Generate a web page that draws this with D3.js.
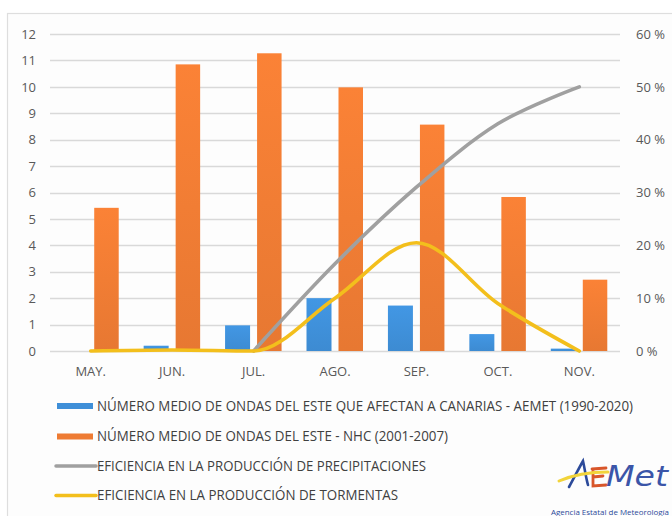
<!DOCTYPE html>
<html>
<head>
<meta charset="utf-8">
<script src="https://cdn.jsdelivr.net/npm/d3@7"></script>
<style>
html,body{margin:0;padding:0;background:#fff;}
svg{display:block;}
</style>
</head>
<body>
<svg id="chart" width="672" height="516"></svg>
<script>
// ---- data ----
const months = ["MAY.", "JUN.", "JUL.", "AGO.", "SEP.", "OCT.", "NOV."];
const aemetWaves = [0, 0.2, 0.97, 2.0, 1.72, 0.64, 0.09];
const nhcWaves = [5.42, 10.85, 11.27, 9.98, 8.57, 5.83, 2.7];
const precipEff = [null, null, 0, 0.165, 0.31, 0.43, 0.50];
const stormEff = [0, 0.002, 0, 0.10, 0.205, 0.09, 0];
const leftTicks = [0,1,2,3,4,5,6,7,8,9,10,11,12];
const rightTicks = [0, 0.1, 0.2, 0.3, 0.4, 0.5, 0.6];
const legendLabels = [
  "NÚMERO MEDIO DE ONDAS DEL ESTE QUE AFECTAN A CANARIAS - AEMET (1990-2020)",
  "NÚMERO MEDIO DE ONDAS DEL ESTE - NHC (2001-2007)",
  "EFICIENCIA EN LA PRODUCCIÓN DE PRECIPITACIONES",
  "EFICIENCIA EN LA PRODUCCIÓN DE TORMENTAS"
];

// ---- styles ----
const BLUE = "#3f8fd8", ORANGE = "#ee7b33", GREY = "#a0a0a0", YELLOW = "#f3bf1c";
const TXT = "#595959", GRID = "#d9d9d9", LEGTXT = "#404040";
const FONT = "'Open Sans', 'Liberation Sans', sans-serif";

const svg = d3.select("#chart");

// gradients for bars
const defs = svg.append("defs");
function grad(id, c) {
  const g = defs.append("linearGradient").attr("id", id).attr("x1", 0).attr("y1", 0).attr("x2", 0).attr("y2", 1);
  g.append("stop").attr("offset", "0%").attr("stop-color", d3.color(c).brighter(0.15));
  g.append("stop").attr("offset", "100%").attr("stop-color", d3.color(c).darker(0.08));
}
grad("gb", BLUE); grad("go", ORANGE);

// frame
svg.append("rect").attr("x", 7.5).attr("y", 13.5).attr("width", 700).attr("height", 600)
  .attr("fill", "#fdfdfd").attr("stroke", "#dedede").attr("stroke-width", 1.2);

// scales
const x = d3.scaleBand().domain(months).range([50, 620]);
const yL = d3.scaleLinear().domain([0, 12]).range([351, 34]);
const yR = d3.scaleLinear().domain([0, 0.6]).range([351, 34]);
const cx = m => x(m) + x.bandwidth() / 2;

// gridlines
svg.append("g").selectAll("line").data(leftTicks).join("line")
  .attr("x1", 50).attr("x2", 620)
  .attr("y1", d => Math.round(yL(d)) + 0.5).attr("y2", d => Math.round(yL(d)) + 0.5)
  .attr("stroke", GRID).attr("stroke-width", 1.3);

// left axis labels
const yAxisL = d3.axisLeft(yL).tickValues(leftTicks).tickSize(0).tickPadding(0);
const gL = svg.append("g").attr("transform", "translate(36,0)").call(yAxisL);
gL.select(".domain").remove();
gL.selectAll("text").attr("font-family", FONT).attr("font-size", 13).attr("fill", TXT);

// right axis labels
const yAxisR = d3.axisRight(yR).tickValues(rightTicks).tickSize(0).tickPadding(0)
  .tickFormat(d => Math.round(d * 100) + " %");
const gR = svg.append("g").attr("transform", "translate(636,0)").call(yAxisR);
gR.select(".domain").remove();
gR.selectAll("text").attr("font-family", FONT).attr("font-size", 13).attr("fill", TXT);

// x axis labels
const xAxis = d3.axisBottom(x).tickSize(0).tickPadding(0);
const gX = svg.append("g").attr("transform", "translate(0,367)").call(xAxis);
gX.select(".domain").remove();
gX.selectAll("text").attr("font-family", FONT).attr("font-size", 13).attr("fill", TXT);

// bars
const barW = 25, gap = 3.5;
svg.append("g").selectAll("rect").data(months).join("rect")
  .attr("x", m => cx(m) - gap - barW)
  .attr("width", barW)
  .attr("y", (m, i) => yL(aemetWaves[i]))
  .attr("height", (m, i) => yL(0) - yL(aemetWaves[i]))
  .attr("fill", "url(#gb)");
svg.append("g").selectAll("rect").data(months).join("rect")
  .attr("x", m => cx(m) + gap)
  .attr("width", barW - 0.5)
  .attr("y", (m, i) => yL(nhcWaves[i]))
  .attr("height", (m, i) => yL(0) - yL(nhcWaves[i]))
  .attr("fill", "url(#go)");

// lines
const lineC = d3.line()
  .defined(d => d.v !== null)
  .x(d => cx(d.m)).y(d => yR(d.v))
  .curve(d3.curveCardinal.tension(0));
const lineM = d3.line()
  .defined(d => d.v !== null)
  .x(d => cx(d.m)).y(d => yR(d.v))
  .curve(d3.curveMonotoneX);
svg.append("path")
  .datum(months.map((m, i) => ({ m, v: precipEff[i] })))
  .attr("d", lineC).attr("fill", "none").attr("stroke", GREY)
  .attr("stroke-width", 3.6).attr("stroke-linecap", "round");
svg.append("path")
  .datum(months.map((m, i) => ({ m, v: stormEff[i] })))
  .attr("d", lineM).attr("fill", "none").attr("stroke", YELLOW)
  .attr("stroke-width", 3.6).attr("stroke-linecap", "round");

// legend
const legY = [406, 436.5, 466, 495.5];
const legEnd = [633, 448, 426, 398];
const legTypes = ["bar", "bar", "line", "line"];
const legColors = [BLUE, ORANGE, GREY, YELLOW];
const leg = svg.append("g");
legendLabels.forEach((t, i) => {
  if (legTypes[i] === "bar") {
    leg.append("rect").attr("x", 57).attr("y", legY[i] - 3).attr("width", 36).attr("height", 6)
      .attr("fill", legColors[i]);
  } else {
    leg.append("line").attr("x1", 56).attr("x2", 96).attr("y1", legY[i]).attr("y2", legY[i])
      .attr("stroke", legColors[i]).attr("stroke-width", 3.5).attr("stroke-linecap", "round");
  }
  leg.append("text").attr("x", 97).attr("y", legY[i]).attr("dy", "0.35em")
    .attr("font-family", FONT).attr("font-size", 14).attr("fill", LEGTXT)
    .attr("textLength", legEnd[i] - 97).attr("lengthAdjust", "spacingAndGlyphs")
    .text(t);
});

// AEMet logo
const logo = svg.append("g");
logo.append("path").attr("d", "M569,487 C574,478 579,468 583,461 C585,470 586,478 588,485")
  .attr("fill", "none").attr("stroke", "#2c4a9a").attr("stroke-width", 2.6).attr("stroke-linecap", "round");
logo.append("path").attr("d", "M592,469 L606,468 M593,469 L593,486 L606,485 M593,477 L603,476")
  .attr("fill", "none").attr("stroke", "#d8562a").attr("stroke-width", 2.8).attr("stroke-linecap", "round");
logo.append("path").attr("d", "M559,481 C575,474 590,472 608,472")
  .attr("fill", "none").attr("stroke", "#f2d43a").attr("stroke-width", 3).attr("stroke-linecap", "round");
logo.append("text").attr("x", 606).attr("y", 486)
  .attr("font-family", "'DejaVu Sans', sans-serif").attr("font-style", "italic").attr("font-size", 29)
  .attr("fill", "#3b55a8").attr("textLength", 62).attr("lengthAdjust", "spacingAndGlyphs").text("Met");
logo.append("text").attr("x", 551).attr("y", 515)
  .attr("font-family", FONT).attr("font-size", 8).attr("fill", "#2c4a9a")
  .attr("textLength", 118).attr("lengthAdjust", "spacingAndGlyphs").text("Agencia Estatal de Meteorología");
</script>
</body>
</html>
